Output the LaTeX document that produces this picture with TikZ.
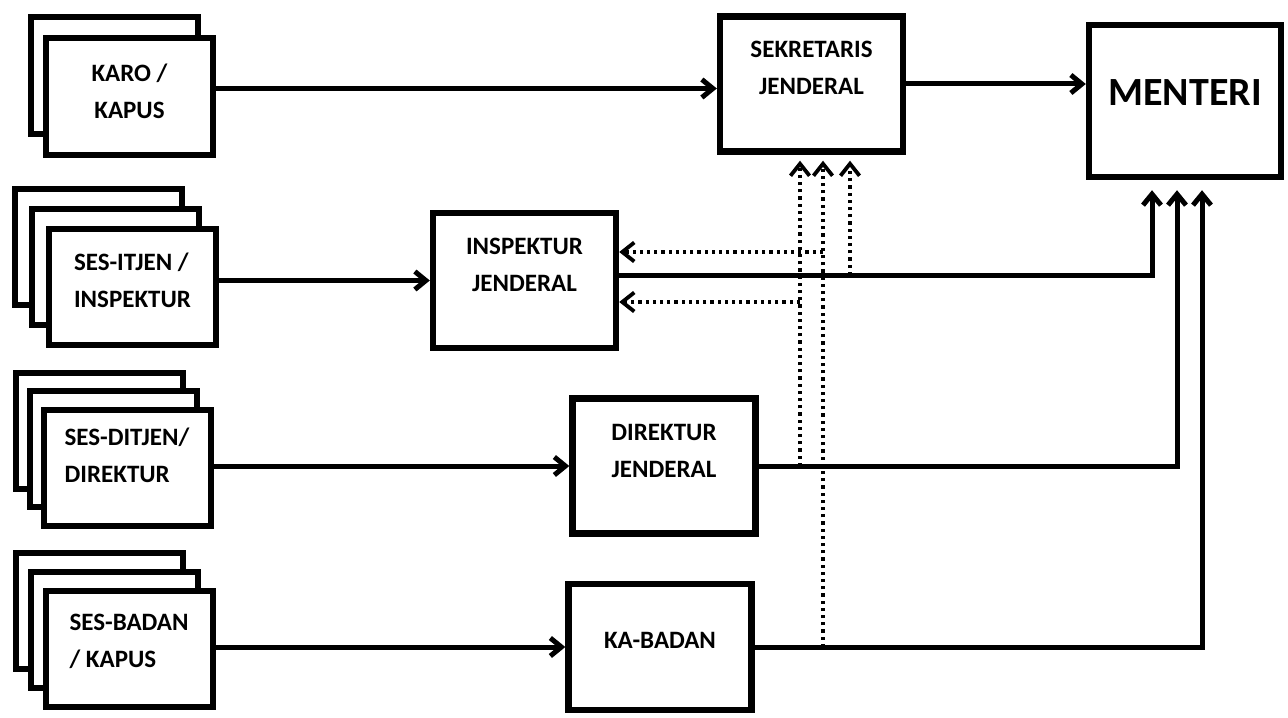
\documentclass[tikz,border=0pt]{standalone}
\usepackage{fontspec}
\setmainfont{Carlito}
\usetikzlibrary{arrows.meta,positioning}

\tikzset{
  sheet/.style={draw, fill=white, line width=3pt, minimum width=83.5pt, minimum height=58pt, inner sep=0pt},
  mainbox/.style={draw, fill=white, line width=3.2pt, minimum width=91.5pt, minimum height=67.5pt, inner sep=0pt},
  boxtext/.style={font=\bfseries\fontsize{12.5}{18.5}\selectfont, align=center, inner sep=0pt},
  flow/.style={line width=2.5pt, -{Straight Barb[length=5.5pt,width=9pt]}},
  dotflow/.style={line width=1.7pt, dash pattern=on 1.6pt off 2pt,
    -{Straight Barb[length=6pt,width=9.5pt,line width=1.9pt]}},
  gap/.style={shorten >=#1},
}

\begin{document}
\begin{tikzpicture}[x=0.5pt, y=-0.5pt]
  \useasboundingbox (0,0) rectangle (1288,717);

  % left column, stacked sheets
  \node[sheet] (karo2) at (114.5,75.5) {};
  \node[sheet, label={[boxtext,yshift=2.5pt]center:{KARO /\\KAPUS}}] (karo) at ([xshift=7.5pt,yshift=-10.5pt]karo2) {};

  \node[sheet] (itjen3) at (98.5,246.5) {};
  \node[sheet] (itjen2) at ([xshift=8.5pt,yshift=-10pt]itjen3) {};
  \node[sheet, label={[boxtext,align=left,yshift=3pt]center:{SES-ITJEN /\\INSPEKTUR}}] (itjen) at ([xshift=8.5pt,yshift=-10pt]itjen2) {};

  \node[sheet] (ditjen3) at (99,430.5) {};
  \node[sheet] (ditjen2) at ([xshift=7pt,yshift=-9.25pt]ditjen3) {};
  \node[sheet, label={[boxtext,align=left,yshift=6pt]center:{SES-DITJEN/\\DIREKTUR}}] (ditjen) at ([xshift=7pt,yshift=-9.25pt]ditjen2) {};

  \node[sheet] (badan3) at (99,610.5) {};
  \node[sheet] (badan2) at ([xshift=7.5pt,yshift=-9.5pt]badan3) {};
  \node[sheet, label={[boxtext,align=left,yshift=3.5pt]center:{SES-BADAN\\/ KAPUS}}] (badan) at ([xshift=7.5pt,yshift=-9.5pt]badan2) {};

  % officials
  \node[mainbox, label={[boxtext,yshift=8pt]center:{SEKRETARIS\\JENDERAL}}] (sek) at (811.5,84) {};
  \node[mainbox, minimum width=96pt, minimum height=76pt,
    label={[boxtext,font=\bfseries\fontsize{20}{24}\selectfont,yshift=4pt]center:MENTERI}] (menteri) at (1185,101) {};
  \node[mainbox, label={[boxtext,yshift=8pt]center:{INSPEKTUR\\JENDERAL}}] (insp) at (524.5,280.5) {};
  \node[mainbox, label={[boxtext,yshift=7.5pt]center:{DIREKTUR\\JENDERAL}}] (dirj) at (664,466) {};
  \node[mainbox, minimum height=63pt, label={[boxtext,yshift=3.5pt]center:KA-BADAN}] (kab) at (660,647) {};

  \coordinate (inspout) at ([yshift=2.75pt]insp.east);
  \coordinate (up1) at ([xshift=-5.75pt]sek.south);
  \coordinate (up2) at ([xshift=5.75pt]sek.south);
  \coordinate (up3) at ([xshift=19.25pt]sek.south);
  \coordinate (back1) at ([yshift=14.25pt]insp.east);
  \coordinate (back2) at ([yshift=-10.75pt]insp.east);

  % solid flows
  \draw[flow] ([yshift=4pt]karo.east) -- ([yshift=4pt]karo.east -| sek.west);
  \draw[flow] (sek.east) -- (sek.east -| menteri.west);
  \draw[flow] (itjen.east |- insp.west) -- (insp.west);
  \draw[flow] (ditjen.east |- dirj.west) -- (dirj.west);
  \draw[flow] (badan.east |- kab.west) -- (kab.west);
  \draw[flow, gap=5pt] (inspout) -| ([xshift=-16.5pt]menteri.south);
  \draw[flow, gap=5pt] (dirj.east) -| ([xshift=-4pt]menteri.south);
  \draw[flow, gap=5pt] (kab.east) -| ([xshift=8.5pt]menteri.south);

  % dotted copies
  \draw[dotflow, gap=3pt] (up1 |- dirj.east) -- (up1);
  \draw[dotflow, gap=3pt] (up2 |- kab.east) -- (up2);
  \draw[dotflow, gap=3pt] (up3 |- inspout) -- (up3);
  \draw[dotflow] (up2 |- back1) -- (back1);
  \draw[dotflow] (up1 |- back2) -- (back2);
\end{tikzpicture}
\end{document}
